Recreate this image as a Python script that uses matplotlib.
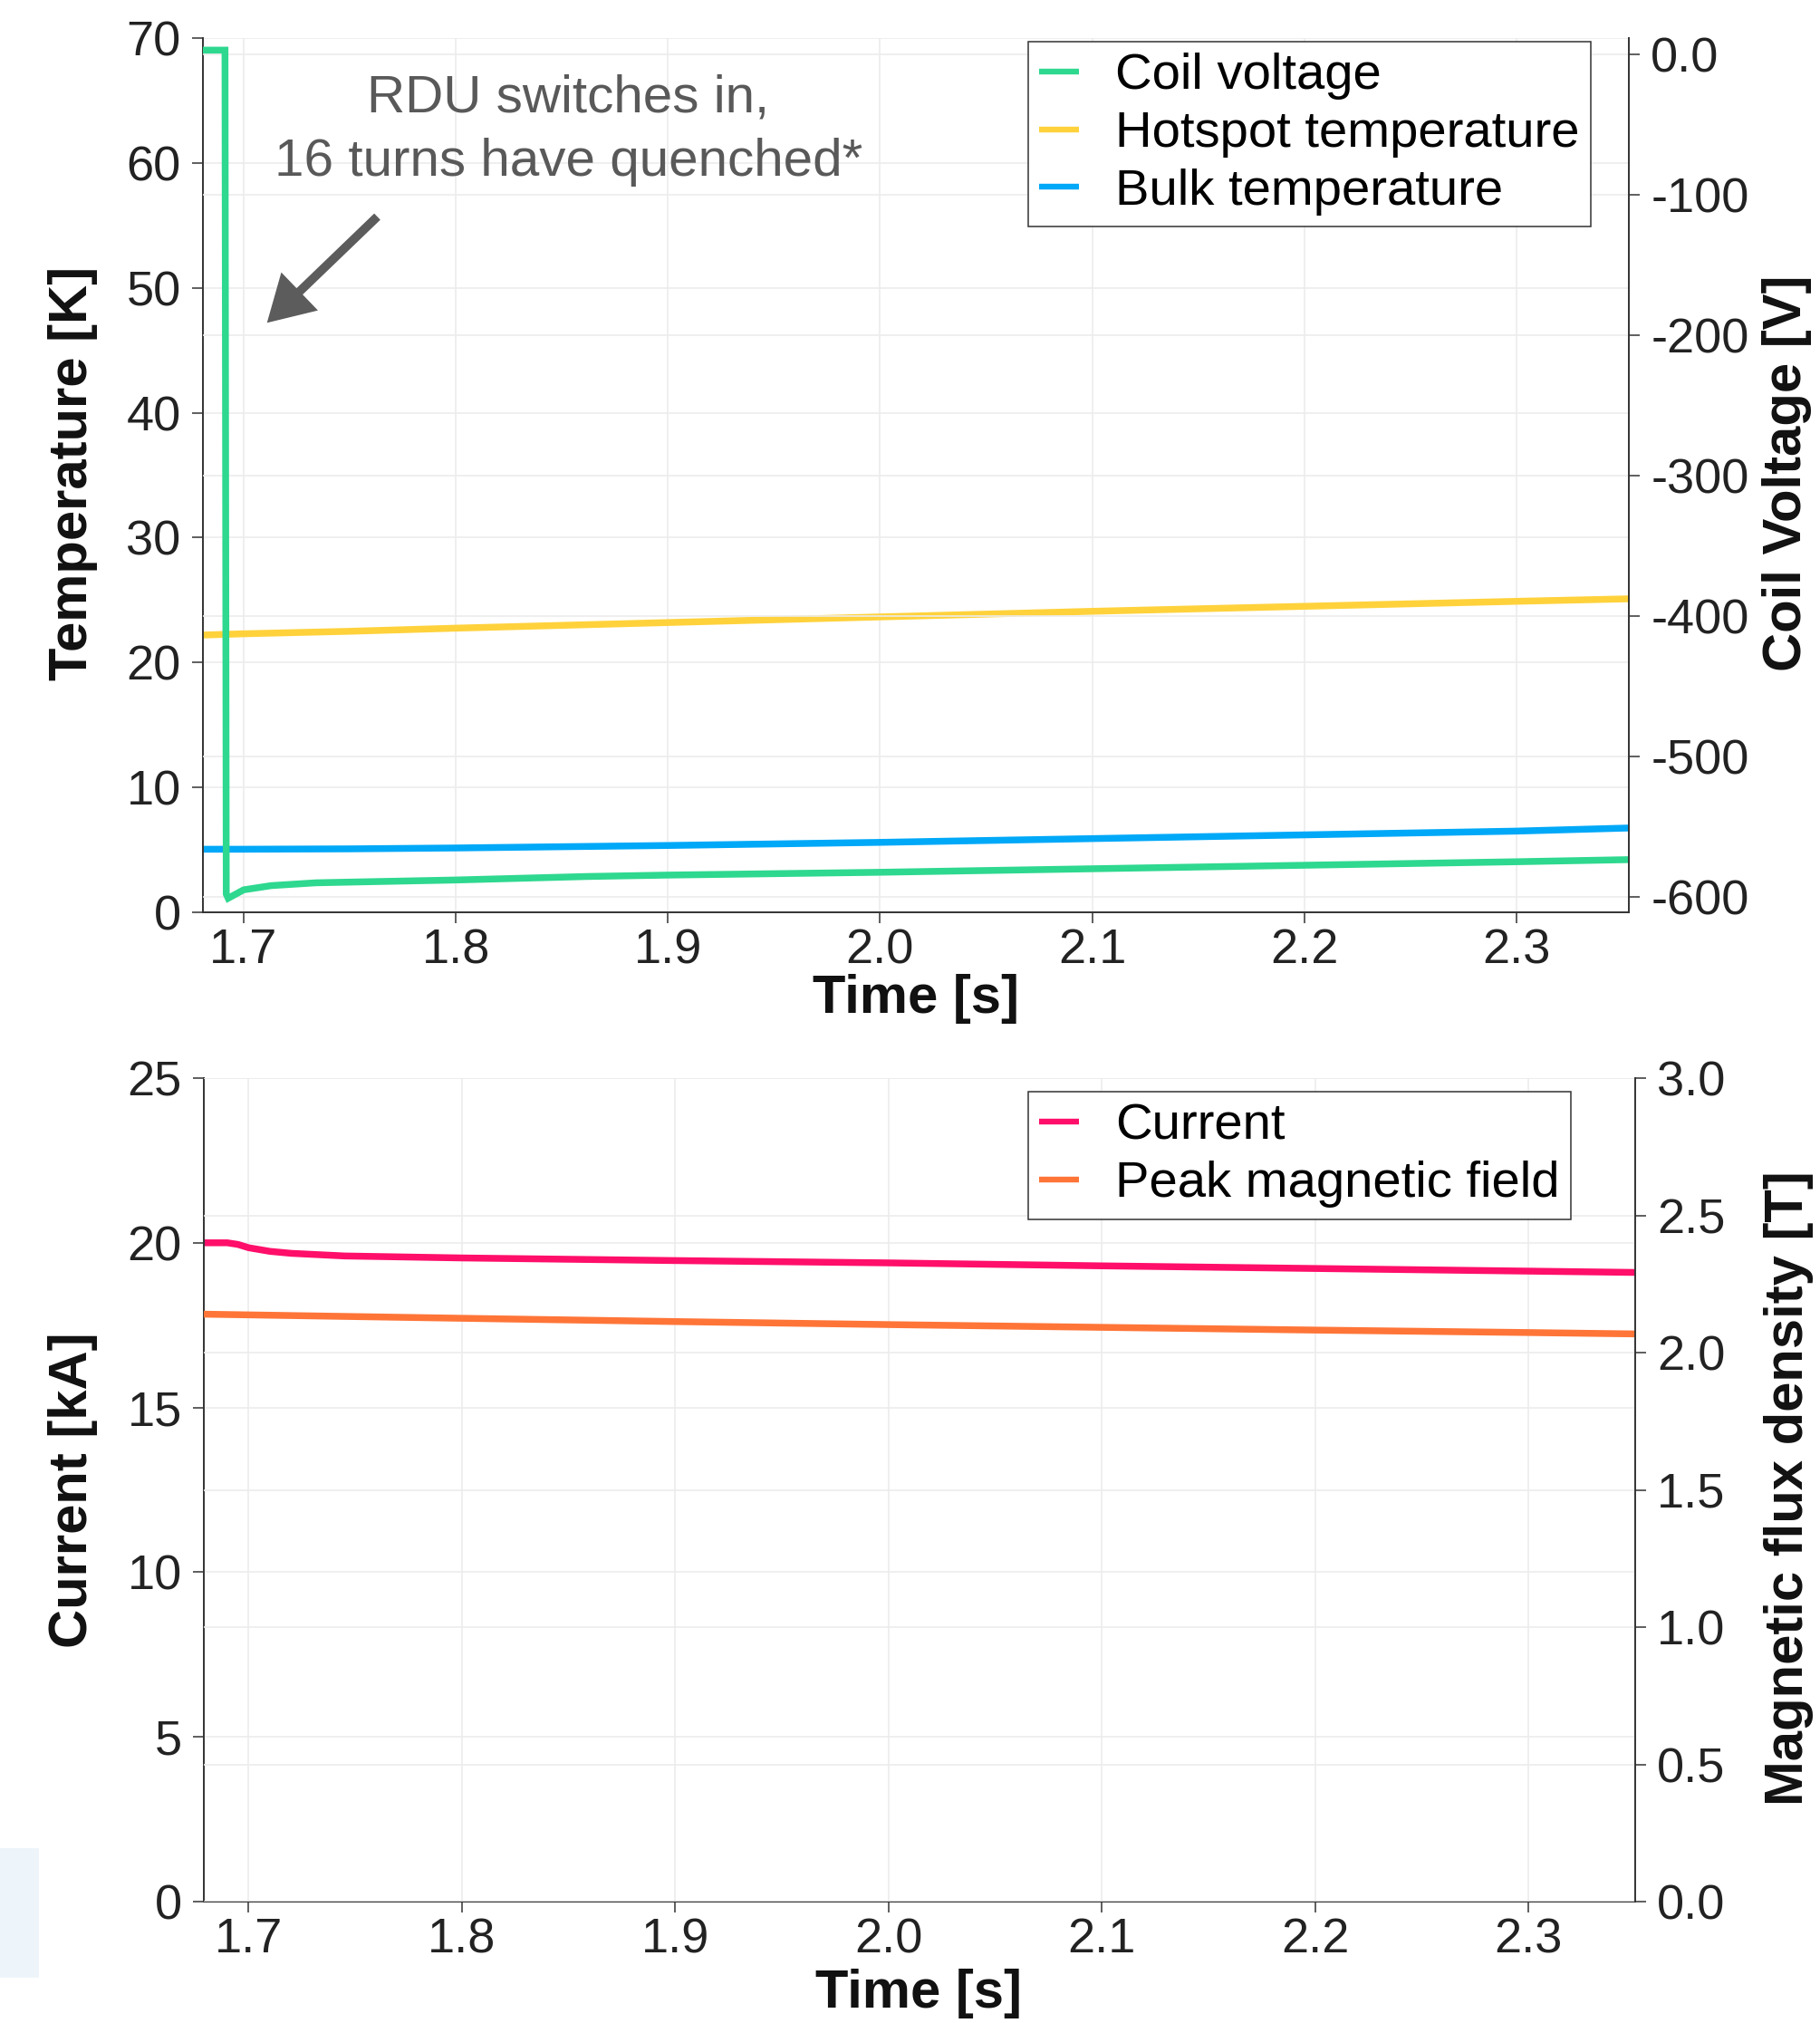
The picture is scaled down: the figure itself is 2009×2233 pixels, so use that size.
import matplotlib
matplotlib.use('Agg')
import matplotlib.pyplot as plt
from matplotlib.patches import Rectangle

plt.rcParams['font.family'] = ['Liberation Sans', 'DejaVu Sans']

# ---------------- data ----------------
t_volt = [1.6808, 1.6912, 1.6918, 1.6927, 1.700, 1.713, 1.734, 1.75, 1.80,
          1.862, 1.90, 2.00, 2.10, 2.20, 2.30, 2.353]
coil_voltage = [3, 3, -598, -601, -595, -592, -590, -589.5, -588,
                -585.5, -584.5, -582.5, -580, -577.5, -575, -573.5]

t_temp = [1.6808, 1.70, 1.75, 1.80, 1.90, 2.00, 2.10, 2.20, 2.30, 2.353]
hotspot_temp = [22.2, 22.3, 22.5, 22.75, 23.2, 23.65, 24.1, 24.5, 24.9, 25.1]
bulk_temp = [5.05, 5.05, 5.08, 5.15, 5.35, 5.6, 5.9, 6.2, 6.5, 6.75]

t_cur = [1.679, 1.690, 1.695, 1.700, 1.710, 1.720, 1.745, 1.80, 1.90,
         2.00, 2.10, 2.20, 2.30, 2.350]
current = [20.0, 20.0, 19.95, 19.85, 19.74, 19.68, 19.6, 19.54, 19.46,
           19.39, 19.3, 19.22, 19.14, 19.1]

t_field = [1.679, 1.80, 1.90, 2.00, 2.10, 2.20, 2.30, 2.350]
peak_field = [2.14, 2.125, 2.113, 2.102, 2.092, 2.082, 2.073, 2.068]

x_ticks = [1.7, 1.8, 1.9, 2.0, 2.1, 2.2, 2.3]
x_ticklabels = ['1.7', '1.8', '1.9', '2.0', '2.1', '2.2', '2.3']
temp_ticks = [0, 10, 20, 30, 40, 50, 60, 70]
volt_ticks = [0, -100, -200, -300, -400, -500, -600]
volt_ticklabels = ['0.0', '-100', '-200', '-300', '-400', '-500', '-600']
cur_ticks = [0, 5, 10, 15, 20, 25]
field_ticks = [0, 0.5, 1.0, 1.5, 2.0, 2.5, 3.0]
field_ticklabels = ['0.0', '0.5', '1.0', '1.5', '2.0', '2.5', '3.0']

# colours
C_VOLT = '#2ED88F'
C_HOT = '#FFD23C'
C_BULK = '#00A8F8'
C_CUR = '#FF0F6A'
C_FIELD = '#FF7538'

W, H = 2009, 2233
fig = plt.figure(figsize=(W / 100, H / 100), dpi=100)
fig.patch.set_facecolor('white')

TICK_FS = 39
LAB_FS = 43
LEG_FS = 40.5
LW = 5.4
GRID_C = '#ececec'
SPINE_C = '#333333'


def style(ax, right=False):
    ax.spines['top'].set_visible(False)
    if right:
        ax.spines['left'].set_visible(False)
        ax.spines['bottom'].set_visible(False)
        ax.spines['right'].set_color(SPINE_C)
        ax.spines['right'].set_linewidth(1.4)
    else:
        ax.spines['right'].set_visible(False)
        for s in ['left', 'bottom']:
            ax.spines[s].set_color(SPINE_C)
            ax.spines[s].set_linewidth(1.4)
    ax.tick_params(direction='out', length=8.5, width=1.1, color=SPINE_C,
                   labelsize=TICK_FS, labelcolor='#222222', pad=9)
    ax.tick_params(axis='x', pad=4)


def rect(l, t, r, b):
    return [l / W, 1 - b / H, (r - l) / W, (b - t) / H]


def make_legend(handles, labels, top_px):
    leg = fig.legend(handles, labels, loc='upper left',
                     bbox_to_anchor=(1135 / W, 1 - top_px / H),
                     bbox_transform=fig.transFigure, borderaxespad=0,
                     fontsize=LEG_FS, handlelength=0.78, handletextpad=0.7,
                     labelspacing=0.21, borderpad=0.22, fancybox=False,
                     framealpha=1, edgecolor='#333333')
    leg.get_frame().set_linewidth(1.1)
    for ln in leg.get_lines():
        ln.set_linewidth(4.6)
    return leg


# ---------------- top panel ----------------
ax1 = fig.add_axes(rect(224, 42, 1798, 1007))
ax1r = ax1.twinx()
for a in (ax1, ax1r):
    a.set_facecolor('none')
l_hot, = ax1.plot(t_temp, hotspot_temp, color=C_HOT, lw=LW,
                  solid_capstyle='butt', label='Hotspot temperature')
l_bulk, = ax1.plot(t_temp, bulk_temp, color=C_BULK, lw=LW,
                   solid_capstyle='butt', label='Bulk temperature')
l_volt, = ax1r.plot(t_volt, coil_voltage, color=C_VOLT, lw=LW,
                    solid_capstyle='butt', solid_joinstyle='miter',
                    label='Coil voltage')
ax1.set_xlim(1.6808, 2.353)
ax1.set_ylim(0, 70)
ax1r.set_ylim(-611, 11.6)
ax1.set_xticks(x_ticks, x_ticklabels)
ax1.set_yticks(temp_ticks)
ax1r.set_yticks(volt_ticks, volt_ticklabels)
style(ax1)
style(ax1r, right=True)
ax1.grid(True, color=GRID_C, lw=1.2)
ax1r.grid(True, axis='y', color=GRID_C, lw=1.2)
ax1.set_axisbelow(True)
ax1r.set_axisbelow(True)

ax1.text(1.853, 62.6, 'RDU switches in,\n16 turns have quenched*',
         ha='center', va='center', fontsize=42, color='#595959',
         linespacing=1.4)
ax1.annotate('', xy=(1.711, 47.2), xytext=(1.763, 55.7),
             arrowprops=dict(facecolor='#5c5c5c', edgecolor='none',
                             width=7, headwidth=42, headlength=36))

make_legend([l_volt, l_hot, l_bulk],
            ['Coil voltage', 'Hotspot temperature', 'Bulk temperature'], 46)

fig.text(81 / W, 1 - 522 / H, 'Temperature [K]', rotation=90, ha='center',
         va='center', fontsize=LAB_FS, fontweight='bold', color='#111111')
fig.text(1972 / W, 1 - 522 / H, 'Coil Voltage [V]', rotation=90, ha='center',
         va='center', fontsize=LAB_FS, fontweight='bold', color='#111111')
fig.text(1011 / W, 1 - 1103 / H, 'Time [s]', ha='center', va='center',
         fontsize=LAB_FS, fontweight='bold', color='#111111')

# ---------------- bottom panel ----------------
ax2 = fig.add_axes(rect(225, 1190, 1805, 2099))
ax2r = ax2.twinx()
for a in (ax2, ax2r):
    a.set_facecolor('none')
l_cur, = ax2.plot(t_cur, current, color=C_CUR, lw=LW,
                  solid_capstyle='butt', label='Current')
l_field, = ax2r.plot(t_field, peak_field, color=C_FIELD, lw=LW,
                     solid_capstyle='butt', label='Peak magnetic field')
ax2.set_xlim(1.679, 2.350)
ax2.set_ylim(0, 25)
ax2r.set_ylim(0, 3)
ax2.set_xticks(x_ticks, x_ticklabels)
ax2.set_yticks(cur_ticks)
ax2r.set_yticks(field_ticks, field_ticklabels)
style(ax2)
style(ax2r, right=True)
ax2.grid(True, color=GRID_C, lw=1.2)
ax2r.grid(True, axis='y', color=GRID_C, lw=1.2)
ax2.set_axisbelow(True)
ax2r.set_axisbelow(True)

make_legend([l_cur, l_field], ['Current', 'Peak magnetic field'], 1205)

fig.text(81 / W, 1 - 1645 / H, 'Current [kA]', rotation=90, ha='center',
         va='center', fontsize=LAB_FS, fontweight='bold', color='#111111')
fig.text(1975 / W, 1 - 1643 / H, 'Magnetic flux density [T]', rotation=90,
         ha='center', va='center', fontsize=LAB_FS, fontweight='bold',
         color='#111111')
fig.text(1014 / W, 1 - 2200 / H, 'Time [s]', ha='center', va='center',
         fontsize=LAB_FS, fontweight='bold', color='#111111')

# faint artefact block at lower-left edge
fig.patches.append(Rectangle((0, 1 - 2183 / H), 43 / W, 143 / H,
                             transform=fig.transFigure, facecolor='#eef5fa',
                             edgecolor='none', zorder=0))

fig.savefig('out.png', dpi=100, facecolor='white')
